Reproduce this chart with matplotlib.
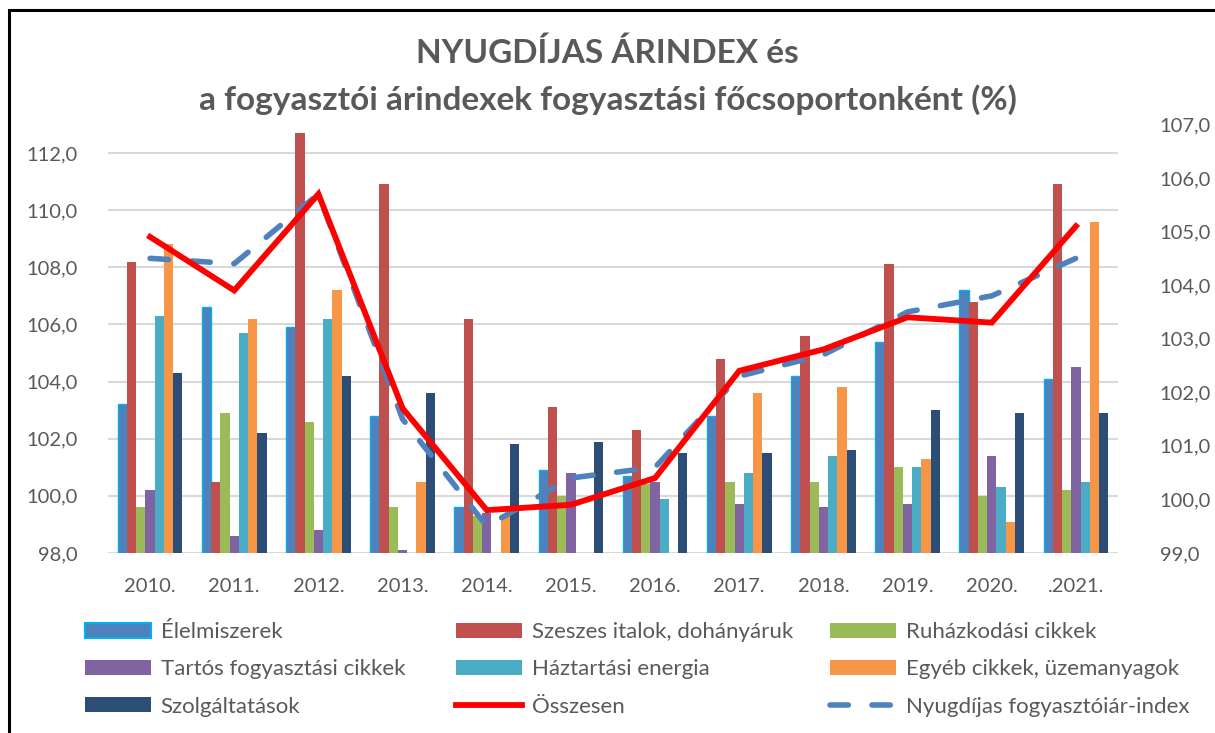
import matplotlib
matplotlib.use('Agg')
import numpy as np
import matplotlib.pyplot as plt
from matplotlib.ticker import FuncFormatter
from matplotlib.patches import Patch, Rectangle
from matplotlib.lines import Line2D

plt.rcParams['font.family'] = ['Lato', 'DejaVu Sans']

# data
years = ['2010.', '2011.', '2012.', '2013.', '2014.', '2015.',
         '2016.', '2017.', '2018.', '2019.', '2020.', '.2021.']

elelmiszerek = [103.2, 106.6, 105.9, 102.8, 99.6, 100.9, 100.7, 102.8, 104.2, 105.4, 107.2, 104.1]
szeszes = [108.2, 100.5, 112.7, 110.9, 106.2, 103.1, 102.3, 104.8, 105.6, 108.1, 106.8, 110.9]
ruhazkodasi = [99.6, 102.9, 102.6, 99.6, 99.3, 100.0, 100.4, 100.5, 100.5, 101.0, 100.0, 100.2]
tartos = [100.2, 98.6, 98.8, 98.1, 99.4, 100.8, 100.5, 99.7, 99.6, 99.7, 101.4, 104.5]
haztartasi = [106.3, 105.7, 106.2, 93.5, 88.0, 97.5, 99.9, 100.8, 101.4, 101.0, 100.3, 100.5]
egyeb = [108.8, 106.2, 107.2, 100.5, 99.3, 96.9, 97.6, 103.6, 103.8, 101.3, 99.1, 109.6]
szolgaltatasok = [104.3, 102.2, 104.2, 103.6, 101.8, 101.9, 101.5, 101.5, 101.6, 103.0, 102.9, 102.9]

osszesen = [104.9, 103.9, 105.7, 101.7, 99.8, 99.9, 100.4, 102.4, 102.8, 103.4, 103.3, 105.1]
nyugdijas = [104.5, 104.4, 105.7, 101.5, 99.5, 100.4, 100.6, 102.3, 102.7, 103.5, 103.8, 104.5]

series = [
    ('Élelmiszerek', elelmiszerek, '#4F81BD'),
    ('Szeszes italok, dohányáruk', szeszes, '#C0504D'),
    ('Ruházkodási cikkek', ruhazkodasi, '#9BBB59'),
    ('Tartós fogyasztási cikkek', tartos, '#8064A2'),
    ('Háztartási energia', haztartasi, '#4BACC6'),
    ('Egyéb cikkek, üzemanyagok', egyeb, '#F79646'),
    ('Szolgáltatások', szolgaltatasok, '#2C4D75'),
]

txt = '#595959'
base = 98.0
dash = (0, (3.3, 4.25))

fig = plt.figure(figsize=(12.15, 7.33), dpi=100)
ax = fig.add_axes([108 / 1215, 1 - 553 / 733, 1010 / 1215, (553 - 124.4) / 733])
ax2 = ax.twinx()

x = np.arange(len(years))
bw = 0.11
handles = {}
for i, (name, vals, col) in enumerate(series):
    pos = x + (i - 3) * bw
    h = np.array(vals) - base
    if i == 0:
        ax.bar(pos, h, bw, bottom=base, color=col, edgecolor='#00B0F0', linewidth=1.0, zorder=3)
        handles[name] = Patch(facecolor=col, edgecolor='#00B0F0', linewidth=1.5)
    else:
        ax.bar(pos, h, bw, bottom=base, color=col, zorder=3)
        handles[name] = Patch(facecolor=col)

ax.set_xlim(-0.5, len(years) - 0.5)
ax.set_ylim(98, 113)
ax.set_yticks(np.arange(98, 113, 2))
ax.grid(axis='y', color='#D9D9D9', linewidth=1.5, zorder=0)
ax.set_axisbelow(True)
fmt = FuncFormatter(lambda v, p: ('%.1f' % v).replace('.', ','))
ax.yaxis.set_major_formatter(fmt)
ax.set_xticks(x)
ax.set_xticklabels(years)
ax.tick_params(axis='x', length=0, pad=18, labelsize=14.5, labelcolor=txt)
ax.tick_params(axis='y', length=0, pad=22, labelsize=14.5, labelcolor=txt)
for s in ax.spines.values():
    s.set_visible(False)

ax2.plot(x, osszesen, color='#FF0000', linewidth=4.2, solid_joinstyle='miter', zorder=5)
ax2.plot(x, nyugdijas, color='#4F81BD', linewidth=4.0, linestyle=dash,
         dash_capstyle='round', zorder=4)
ax2.set_ylim(99, 107)
ax2.set_yticks(np.arange(99, 107.5, 1))
ax2.yaxis.set_major_formatter(fmt)
ax2.tick_params(axis='y', length=0, pad=30, labelsize=14.5, labelcolor=txt)
for s in ax2.spines.values():
    s.set_visible(False)
handles['Összesen'] = Line2D([], [], color='#FF0000', linewidth=4.2)
handles['Nyugdíjas fogyasztóiár-index'] = Line2D([], [], color='#4F81BD', linewidth=4.0,
                                                 linestyle=dash, dash_capstyle='round')

fig.text(0.5, 1 - 53 / 733, 'NYUGDÍJAS ÁRINDEX és', ha='center', va='center',
         fontsize=24, fontweight='bold', color=txt)
fig.text(0.5, 1 - 100 / 733, 'a fogyasztói árindexek fogyasztási főcsoportonként (%)',
         ha='center', va='center', fontsize=24, fontweight='bold', color=txt)

# legend, three columns laid out like the original
cols = [
    (['Élelmiszerek', 'Tartós fogyasztási cikkek', 'Szolgáltatások'], 85),
    (['Szeszes italok, dohányáruk', 'Háztartási energia', 'Összesen'], 456),
    (['Ruházkodási cikkek', 'Egyéb cikkek, üzemanyagok', 'Nyugdíjas fogyasztóiár-index'], 830),
]
for names, xpx in cols:
    leg = fig.legend([handles[n] for n in names], names, loc='upper left',
                     bbox_to_anchor=(xpx / 1215, 1 - 622 / 733), frameon=False,
                     fontsize=16, handlelength=2.95, handleheight=0.65,
                     handletextpad=0.45, labelspacing=0.78, borderaxespad=0, borderpad=0)
    for t in leg.get_texts():
        t.set_color(txt)

# outer frame (runs off the right and bottom edges like the original)
fig.patches.append(Rectangle((9 / 1215, -0.05), 1.2, 1 - 10 / 733 + 0.05,
                             transform=fig.transFigure, fill=False,
                             edgecolor='black', linewidth=2.2))

fig.savefig('out.png', dpi=100)
